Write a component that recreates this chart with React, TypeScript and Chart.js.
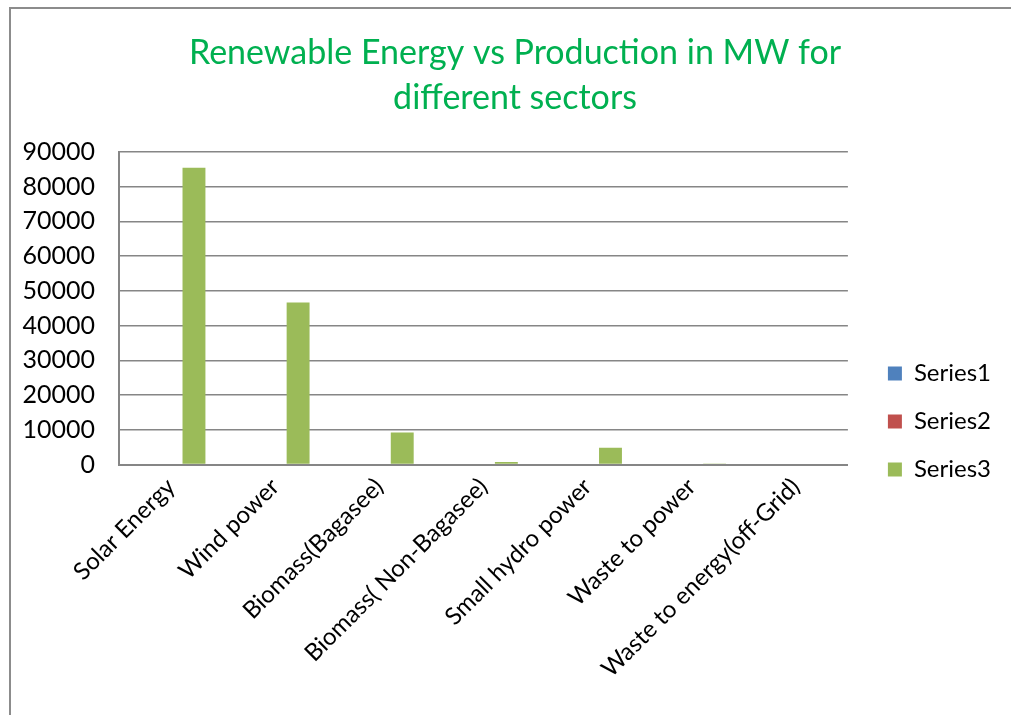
import React, { useEffect, useRef } from "react";
import { Chart, registerables } from "chart.js";

Chart.register(...registerables);

const categories = [
  "Solar Energy",
  "Wind power",
  "Biomass(Bagasee)",
  "Biomass( Non-Bagasee)",
  "Small hydro power",
  "Waste to power",
  "Waste to energy(off-Grid)",
];
const series1: (number | null)[] = [null, null, null, null, null, null, null];
const series2: (number | null)[] = [null, null, null, null, null, null, null];
const series3 = [85400, 46600, 9200, 760, 4850, 150, 220];
const titleLines = ["Renewable Energy vs Production in MW for", "different sectors"];
const yTicks = [0, 10000, 20000, 30000, 40000, 50000, 60000, 70000, 80000, 90000];

const FONT = "Lato, 'Open Sans', sans-serif";

const legendWiden = {
  id: "legendWiden",
  afterInit(chart: any) {
    const lg = chart.legend;
    if (lg && !lg.__widened) {
      const orig = lg.fit.bind(lg);
      lg.fit = function () {
        orig();
        this.width += 10;
      };
      lg.__widened = true;
    }
  },
};

export default function App() {
  const ref = useRef<HTMLCanvasElement | null>(null);

  useEffect(() => {
    document.body.style.margin = "0";
    const ctx = ref.current!;
    const chart = new Chart(ctx, {
      type: "bar",
      data: {
        labels: categories,
        datasets: [
          { label: "Series1", data: series1, backgroundColor: "#4F81BD", borderWidth: 0 },
          { label: "Series2", data: series2, backgroundColor: "#C0504D", borderWidth: 0 },
          { label: "Series3", data: series3, backgroundColor: "#9BBB59", borderWidth: 0 },
        ],
      },
      plugins: [legendWiden],
      options: {
        responsive: false,
        animation: false,
        devicePixelRatio: 1,
        color: "#000",
        font: { family: FONT },
        layout: { padding: { left: 19, right: 0, top: 8, bottom: 24 } },
        datasets: { bar: { categoryPercentage: 0.66, barPercentage: 1 } },
        plugins: {
          title: {
            display: true,
            text: titleLines,
            color: "#00B050",
            font: { family: FONT, size: 34, weight: "normal", lineHeight: 1.32 },
            padding: { top: 23, bottom: 31 },
          },
          legend: {
            display: true,
            position: "right",
            title: { display: true, text: "", font: { size: 10 }, padding: { top: 66, bottom: 66 } },
            labels: {
              boxWidth: 14,
              boxHeight: 14,
              padding: 24,
              color: "#000",
              font: { family: FONT, size: 24 },
            },
          },
          tooltip: { enabled: false },
        },
        scales: {
          x: {
            grid: { display: false, drawTicks: false },
            border: { display: true, color: "#868686", width: 2 },
            ticks: {
              color: "#000",
              font: { family: FONT, size: 24 },
              minRotation: 45,
              maxRotation: 45,
              autoSkip: false,
              padding: 8,
            },
          },
          y: {
            min: 0,
            max: 90000,
            afterBuildTicks: (s: any) => {
              s.ticks = yTicks.map((v) => ({ value: v }));
            },
            afterFit: (s: any) => {
              s.width = 100;
            },
            grid: { color: "#868686", lineWidth: 1.5, drawTicks: false },
            border: { display: true, color: "#868686", width: 2 },
            ticks: {
              color: "#000",
              font: { family: FONT, size: 25 },
              padding: 24,
              callback: (v: any) => String(v),
            },
          },
          gap: {
            type: "linear",
            position: "right",
            display: true,
            grid: { display: false, drawTicks: false },
            border: { display: false },
            ticks: { display: false },
            afterFit: (s: any) => {
              s.width = 16;
            },
          },
        },
      } as any,
    });
    return () => chart.destroy();
  }, []);

  return (
    <div style={{ position: "absolute", left: 0, top: 0, width: 1011, height: 715, background: "#fff" }}>
      <canvas ref={ref} width={1011} height={715} style={{ position: "absolute", left: 0, top: 0 }} />
      <div
        style={{
          position: "absolute",
          left: 9,
          top: 7,
          width: 1011,
          height: 720,
          borderLeft: "2px solid #8c8c8c",
          borderTop: "2px solid #8c8c8c",
          pointerEvents: "none",
        }}
      />
    </div>
  );
}
